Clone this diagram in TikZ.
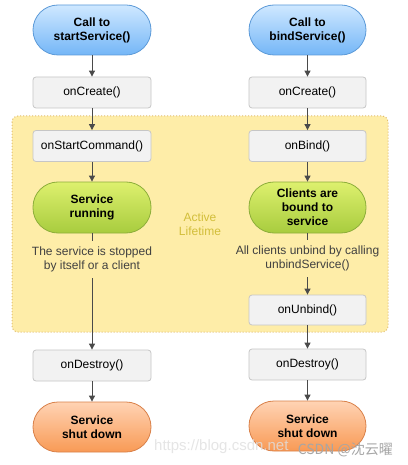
\documentclass[tikz,border=0pt]{standalone}
\usepackage{fontspec}
\setmainfont{Liberation Sans}
\newfontfamily\cjk{Noto Sans CJK SC}
\usetikzlibrary{arrows.meta}
\definecolor{bluetop}{HTML}{CFE8FF}
\definecolor{bluebot}{HTML}{74B6F7}
\definecolor{blueedge}{HTML}{5C9AD8}
\definecolor{greentop}{HTML}{DDF06E}
\definecolor{greenbot}{HTML}{A8CC3E}
\definecolor{greenedge}{HTML}{8DAE3A}
\definecolor{orangetop}{HTML}{FFD3B4}
\definecolor{orangebot}{HTML}{F89A55}
\definecolor{orangeedge}{HTML}{D9814A}
\definecolor{boxfill}{HTML}{F2F2F2}
\definecolor{boxedge}{HTML}{C6C6C6}
\definecolor{areafill}{HTML}{FEEDA8}
\definecolor{areaedge}{HTML}{E2BE72}
\definecolor{activetxt}{HTML}{D2BE3A}
\definecolor{arrowcol}{HTML}{4A4A4A}
\definecolor{captxt}{HTML}{404040}
\tikzset{
  pill/.style={rectangle, rounded corners=25pt, minimum width=118pt, minimum height=50pt,
    font=\bfseries\fontsize{12}{14}\selectfont, align=center, text=black, line width=0.8pt},
  bluepill/.style={pill, draw=blueedge, top color=bluetop, bottom color=bluebot},
  greenpill/.style={pill, draw=greenedge, top color=greentop, bottom color=greenbot},
  orangepill/.style={pill, draw=orangeedge, top color=orangetop, bottom color=orangebot},
  graybox/.style={rectangle, rounded corners=3pt, minimum width=118pt, minimum height=31pt,
    draw=boxedge, fill=boxfill, line width=0.8pt, font=\fontsize{12}{14}\selectfont, text=black},
  caption/.style={align=center, font=\fontsize{12}{14}\selectfont, text=captxt, inner sep=6pt},
  arr/.style={draw=arrowcol, line width=0.9pt, -{Triangle[width=6pt,length=6pt]}},
  ln/.style={draw=arrowcol, line width=0.9pt},
}
\begin{document}
\begin{tikzpicture}[x=1pt,y=-1pt]
\useasboundingbox (0,0) rectangle (407,465);
\fill[white] (0,0) rectangle (407,465);
% active lifetime area
\draw[fill=areafill, draw=areaedge, line width=1pt, dash pattern=on 1pt off 2pt, rounded corners=6pt]
  (12,116) rectangle (388,332);
\node[text=activetxt, align=center, font=\fontsize{12}{14}\selectfont] (active) at (200,224) {Active\\Lifetime};

% left column
\node[bluepill] (call1) at (92,30) {Call to\\startService()};
\node[graybox] (create1) at (92,92.5) {onCreate()};
\node[graybox] (start) at (92,146) {onStartCommand()};
\node[greenpill, minimum height=51pt] (run) at (92,207.5) {Service\\running};
\node[caption] (stop) at (92,259.5) {The service is stopped\\by itself or a client};
\node[graybox] (destroy1) at (92,365.5) {onDestroy()};
\node[orangepill] (shut1) at (92,427) {Service\\shut down};

% right column
\node[bluepill, minimum width=117pt] (call2) at (307.5,30) {Call to\\bindService()};
\node[graybox, minimum width=117pt] (create2) at (307.5,92.5) {onCreate()};
\node[graybox, minimum width=117pt] (bind) at (307.5,146) {onBind()};
\node[greenpill, minimum width=117pt, minimum height=51pt] (bound) at (307.5,207.5) {Clients are\\bound to\\service};
\node[caption] (unbindtxt) at (307.5,258.5) {All clients unbind by calling\\unbindService()};
\node[graybox, minimum width=117pt, minimum height=30pt] (unbind) at (307.5,310) {onUnbind()};
\node[graybox, minimum width=117pt] (destroy2) at (307.5,364.5) {onDestroy()};
\node[orangepill, minimum width=117pt] (shut2) at (307.5,426) {Service\\shut down};

% connectors left
\draw[arr] (call1) -- (create1);
\draw[arr] (create1) -- (start);
\draw[arr] (start) -- (run);
\draw[ln] (run) -- (stop);
\draw[arr] (stop) -- (destroy1);
\draw[arr] (destroy1) -- (shut1);

% connectors right
\draw[arr] (call2) -- (create2);
\draw[arr] (create2) -- (bind);
\draw[arr] (bind) -- (bound);
\draw[ln] (bound) -- (unbindtxt);
\draw[arr] (unbindtxt) -- (unbind);
\draw[arr] (unbind) -- (destroy2);
\draw[arr] (destroy2) -- (shut2);

% watermark
\node[anchor=west, text=gray!25, opacity=0.8, font=\fontsize{15}{17}\selectfont, inner sep=0pt] (wm1) at (154,447) {https://blog.csdn.net};
\node[anchor=east, text=gray!70, font=\cjk\fontsize{14}{16}\selectfont, inner sep=0pt] (wm2) at (393,450) {CSDN @沈云曜};
\end{tikzpicture}
\end{document}
